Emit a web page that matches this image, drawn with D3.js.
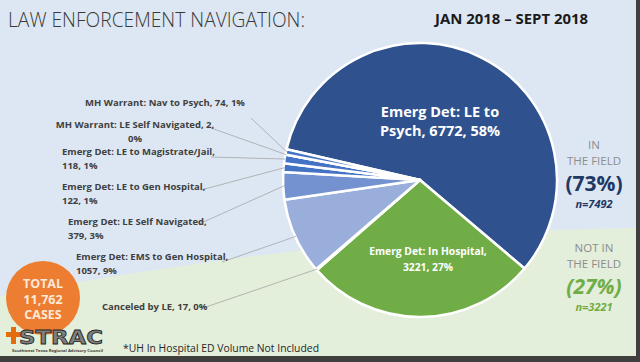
<!DOCTYPE html>
<html>
<head>
<meta charset="utf-8">
<script src="https://cdn.jsdelivr.net/npm/d3@7"></script>
<style>
  body { margin: 0; }
  svg { display: block; font-family: 'Open Sans', sans-serif; }
</style>
</head>
<body>
<svg width="640" height="362"></svg>
<script>
// slices, clockwise from the left edge of the big one
const categories = [
  'Emerg Det: LE to Psych',
  'Emerg Det: In Hospital',
  'Canceled by LE',
  'Emerg Det: EMS to Gen Hospital',
  'Emerg Det: LE Self Navigated',
  'Emerg Det: LE to Gen Hospital',
  'Emerg Det: LE to Magistrate/Jail',
  'MH Warrant: LE Self Navigated',
  'MH Warrant: Nav to Psych',
];
const values = [6772, 3221, 17, 1057, 379, 122, 118, 2, 74];
// words on the first line of each label
const firstLineWords = [4, 4, 99, 6, 5, 6, 5, 6, 99];
const inField = { pct: '(73%)', n: 7492 };
const notInField = { pct: '(27%)', n: 3221 };
const total = '11,762';

const svg = d3.select('svg');
const W = 640, H = 362;
const cx = 420, cy = 180, R = 137;
const sliceColors = ['#2f528f', '#70ad47', '#a9bae0', '#9aaedb', '#7492d0',
  '#4472c4', '#4472c4', '#4472c4', '#4472c4'];
const labelGrey = '#404040';

// background
svg.append('rect').attr('width', W).attr('height', H).attr('fill', '#dde7f3');
svg.append('path')
  .attr('d', `M0,296 Q360,230 ${W},228 L${W},${H} L0,${H} Z`)
  .attr('fill', '#e3eedb');
svg.append('rect').attr('x', 636).attr('width', 4).attr('height', H).attr('fill', '#3f3f3f');
svg.append('rect').attr('y', 356).attr('width', W).attr('height', 6).attr('fill', '#3f3f3f');

// titles
svg.append('text').attr('x', 8).attr('y', 27)
  .attr('font-size', 21).attr('font-weight', 300).attr('fill', '#3a3a3a')
  .attr('textLength', 297).attr('lengthAdjust', 'spacingAndGlyphs')
  .text('LAW ENFORCEMENT NAVIGATION:');
svg.append('text').attr('x', 435).attr('y', 24)
  .attr('font-size', 13.5).attr('font-weight', 700).attr('fill', '#1a1a1a')
  .attr('textLength', 153).attr('lengthAdjust', 'spacingAndGlyphs')
  .text('JAN 2018 – SEPT 2018');

const data = categories.map((c, i) => ({ name: c, value: values[i], i }));
const sum = d3.sum(values);
const fmtPct = d3.format('.0%');

const pie = d3.pie().sort(null).value(d => d.value)
  .startAngle(-77 * Math.PI / 180)
  .endAngle(-77 * Math.PI / 180 + 2 * Math.PI);
const arcs = pie(data);
const arc = d3.arc().innerRadius(0).outerRadius(R);
const edge = d3.arc().innerRadius(R - 1).outerRadius(R - 1);

const g = svg.append('g').attr('transform', `translate(${cx},${cy})`);
g.selectAll('path.slice').data(arcs).join('path')
  .attr('class', 'slice')
  .attr('d', arc)
  .attr('fill', d => sliceColors[d.data.i])
  .attr('stroke', '#fff')
  .attr('stroke-width', 2.5)
  .attr('stroke-linejoin', 'round');

function labelLines(d) {
  const words = `${d.name}, ${d.value}, ${fmtPct(d.value / sum)}`.split(' ');
  const k = firstLineWords[d.i];
  const lines = [words.slice(0, k).join(' ')];
  if (words.length > k) lines.push(words.slice(k).join(' '));
  return lines;
}

// outside label layout: x, first baseline, anchor, leader start
const outside = {
  8: { x: 165, y: 106, anchor: 'middle', lx: 251, ly: 118 },
  7: { x: 135, y: 128, anchor: 'middle', lx: 211, ly: 128 },
  6: { x: 62, y: 155, anchor: 'start', lx: 211, ly: 157 },
  5: { x: 62, y: 190, anchor: 'start', lx: 201, ly: 190 },
  4: { x: 68, y: 225, anchor: 'start', lx: 199, ly: 224 },
  3: { x: 76, y: 260, anchor: 'start', lx: 222, ly: 262 },
  2: { x: 102, y: 310, anchor: 'start', lx: 203, ly: 308 },
};

arcs.forEach(a => {
  const pos = outside[a.data.i];
  if (!pos) return;
  const [ex, ey] = edge.centroid(a);
  svg.append('line')
    .attr('x1', pos.lx).attr('y1', pos.ly)
    .attr('x2', cx + ex).attr('y2', cy + ey)
    .attr('stroke', '#a6a6a6').attr('stroke-width', 0.8);
  const t = svg.append('text')
    .attr('x', pos.x).attr('y', pos.y)
    .attr('text-anchor', pos.anchor)
    .attr('font-size', 9.5).attr('font-weight', 700).attr('fill', labelGrey);
  labelLines(a.data).forEach((line, j) => {
    t.append('tspan').attr('x', pos.x).attr('dy', j ? 13.5 : 0).text(line);
  });
});

// labels inside the two big slices
const inside = {
  0: { x: 440, y: 117, size: 14.5, lh: 19 },
  1: { x: 428, y: 255, size: 10.3, lh: 16 },
};
arcs.forEach(a => {
  const pos = inside[a.data.i];
  if (!pos) return;
  const t = svg.append('text')
    .attr('x', pos.x).attr('y', pos.y)
    .attr('text-anchor', 'middle')
    .attr('font-size', pos.size).attr('font-weight', 700).attr('fill', '#fff');
  labelLines(a.data).forEach((line, j) => {
    t.append('tspan').attr('x', pos.x).attr('dy', j ? pos.lh : 0).text(line);
  });
});

// right side notes
function sideNote(y, title, info, color) {
  const x = 594;
  const t = svg.append('g').attr('text-anchor', 'middle');
  title.forEach((s, j) => {
    t.append('text').attr('x', x).attr('y', y + j * 16)
      .attr('font-size', 11.5).attr('fill', '#8c8c8c').text(s);
  });
  t.append('text').attr('x', x).attr('y', y + 42)
    .attr('font-size', 21).attr('font-weight', 700).attr('fill', color)
    .attr('font-style', info === notInField ? 'italic' : 'normal')
    .text(info.pct);
  t.append('text').attr('x', x).attr('y', y + 59)
    .attr('font-size', 11).attr('font-weight', 700).attr('font-style', 'italic')
    .attr('fill', color).text(`n=${info.n}`);
}
sideNote(149, ['IN', 'THE FIELD'], inField, '#1f3864');
sideNote(252, ['NOT IN', 'THE FIELD'], notInField, '#70ad47');

// total bubble
svg.append('circle').attr('cx', 43).attr('cy', 298).attr('r', 37).attr('fill', '#ed7d31');
['TOTAL', total, 'CASES'].forEach((s, j) => {
  svg.append('text').attr('x', 43).attr('y', 288 + j * 15.5)
    .attr('text-anchor', 'middle').attr('font-size', 12.5).attr('font-weight', 700)
    .attr('fill', '#fde9d9').text(s);
});

// logo
svg.append('path')
  .attr('d', 'M11,327 h5 v5 h5 v5 h-5 v7 h-5 v-7 h-5 v-5 h5 z')
  .attr('fill', '#e46c0a');
svg.append('text').attr('x', 19).attr('y', 344)
  .attr('font-size', 19).attr('font-weight', 900).attr('font-family', 'DejaVu Sans')
  .attr('fill', '#7f7f7f').attr('stroke', '#262626').attr('stroke-width', 0.8)
  .attr('textLength', 84).attr('lengthAdjust', 'spacingAndGlyphs')
  .text('STRAC');
svg.append('text').attr('x', 12).attr('y', 352)
  .attr('font-size', 4).attr('font-weight', 700).attr('fill', '#404040')
  .attr('textLength', 91).attr('lengthAdjust', 'spacingAndGlyphs')
  .text('Southwest Texas Regional Advisory Council');

// footnote
svg.append('text').attr('x', 123).attr('y', 352)
  .attr('font-size', 11.5).attr('fill', '#262626')
  .attr('textLength', 196).attr('lengthAdjust', 'spacingAndGlyphs')
  .text('*UH In Hospital ED Volume Not Included');
</script>
</body>
</html>
